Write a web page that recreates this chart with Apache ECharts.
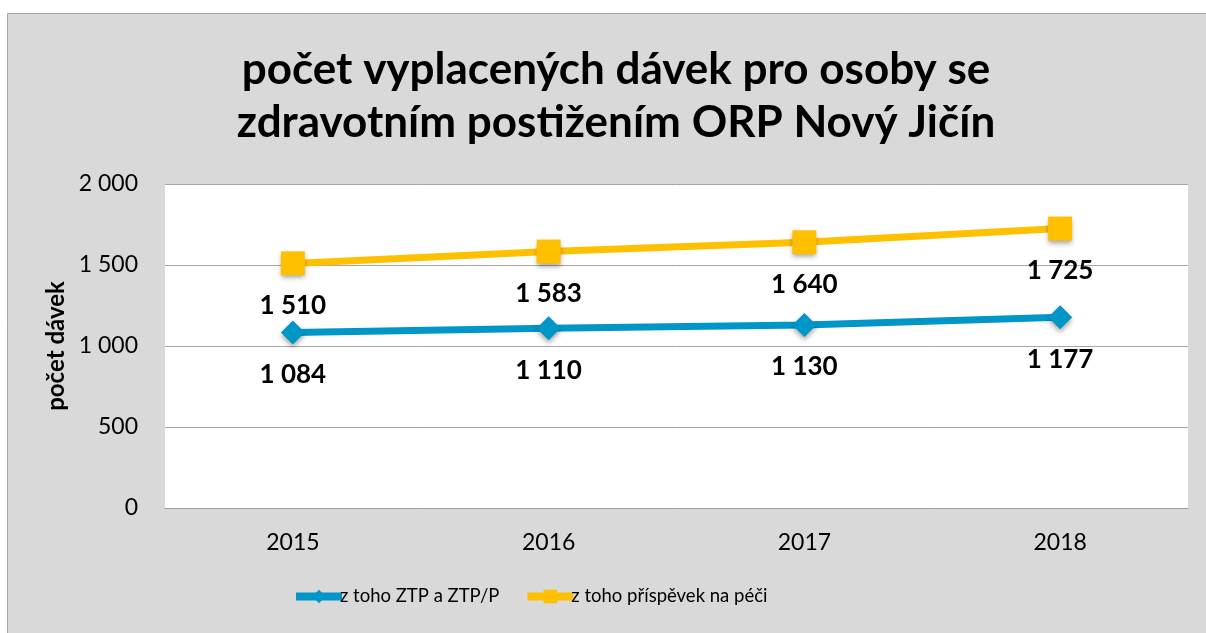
<!DOCTYPE html>
<html>
<head>
<meta charset="utf-8">
<script src="https://cdn.jsdelivr.net/npm/echarts@6/dist/echarts.min.js"></script>
<style>
  html, body { margin: 0; padding: 0; background: #fff; }
  #main { width: 1206px; height: 633px; }
</style>
</head>
<body>
<div id="main"></div>
<script>
var years = ['2015', '2016', '2017', '2018'];
var ztpValues = [1084, 1110, 1130, 1177];
var peceValues = [1510, 1583, 1640, 1725];
var seriesNames = ['z toho ZTP a ZTP/P', 'z toho příspěvek na péči'];

var font = 'Lato, "Open Sans", sans-serif';

function fmt(v) {
  // mezera jako oddělovač tisíců
  return String(v).replace(/\B(?=(\d{3})+(?!\d))/g, ' ');
}

var myChart = echarts.init(document.getElementById('main'));
myChart.setOption({
  backgroundColor: '#fff',
  textStyle: { fontFamily: font },
  graphic: [{
    type: 'rect',
    z: -10,
    silent: true,
    shape: { x: 7.5, y: 13.5, width: 1250, height: 700 },
    style: { fill: '#d9d9d9', stroke: '#a6a6a6', lineWidth: 1 }
  }],
  title: {
    text: 'počet vyplacených dávek pro osoby se\nzdravotním postižením ORP Nový Jičín',
    left: 611,
    textAlign: 'center',
    top: 38,
    textStyle: {
      fontFamily: font,
      fontSize: 44,
      fontWeight: 'bold',
      color: '#000',
      lineHeight: 53
    }
  },
  legend: {
    bottom: 22,
    left: 287,
    itemWidth: 46,
    itemHeight: 17,
    itemGap: 24,
    data: seriesNames,
    lineStyle: { width: 8 },
    textStyle: { fontFamily: font, fontSize: 18.5, color: '#000', padding: [0, 0, 0, -7] }
  },
  grid: {
    left: 165,
    right: 18,
    top: 184,
    bottom: 125,
    show: true,
    backgroundColor: '#fff',
    borderWidth: 0
  },
  xAxis: {
    type: 'category',
    data: years,
    axisLine: { lineStyle: { color: '#9e9e9e', width: 1 } },
    axisTick: { show: false },
    axisLabel: { color: '#000', fontSize: 23, margin: 23 }
  },
  yAxis: {
    type: 'value',
    min: 0,
    max: 2000,
    interval: 500,
    name: 'počet dávek',
    nameLocation: 'middle',
    nameGap: 93,
    nameTextStyle: { color: '#000', fontSize: 24, fontWeight: 'bold' },
    axisLine: { show: false },
    axisTick: { show: false },
    axisLabel: { color: '#000', fontSize: 23, margin: 27, formatter: fmt },
    splitLine: { lineStyle: { color: '#a6a6a6', width: 1 } }
  },
  series: [{
    name: seriesNames[0],
    type: 'line',
    data: ztpValues,
    symbol: 'diamond',
    symbolSize: 24,
    color: '#0096c8',
    lineStyle: { width: 7, color: '#0096c8' },
    itemStyle: { color: '#0096c8', shadowBlur: 5, shadowOffsetY: 3, shadowColor: 'rgba(0,0,0,0.35)' },
    label: {
      show: true,
      position: 'bottom',
      distance: 17,
      color: '#000',
      fontSize: 26,
      fontWeight: 'bold',
      formatter: function (p) { return fmt(p.value); }
    }
  }, {
    name: seriesNames[1],
    type: 'line',
    data: peceValues,
    symbol: 'rect',
    symbolSize: 24,
    color: '#ffc000',
    lineStyle: { width: 7, color: '#ffc000' },
    itemStyle: { color: '#ffc000', shadowBlur: 5, shadowOffsetY: 3, shadowColor: 'rgba(0,0,0,0.35)' },
    label: {
      show: true,
      position: 'bottom',
      distance: 17,
      color: '#000',
      fontSize: 26,
      fontWeight: 'bold',
      formatter: function (p) { return fmt(p.value); }
    }
  }]
});
</script>
</body>
</html>
